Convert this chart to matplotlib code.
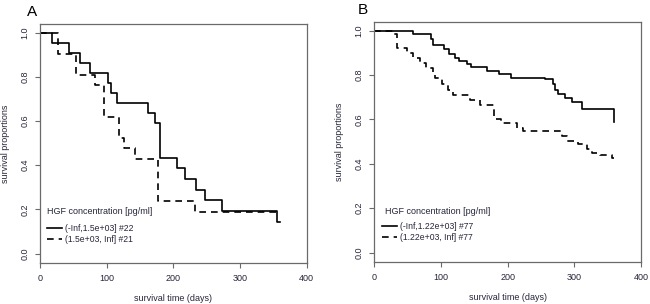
import numpy as np
import matplotlib
matplotlib.use("Agg")
import matplotlib.pyplot as plt

# DATA

# panel A, n = 22 / 21
a_low_days = [0, 18.5, 43.5, 59.5, 74.5, 102, 106, 115.5, 162, 173, 179.5,
              206, 217, 234.5, 247, 273.5, 356, 359.5]
a_low_surv = [1.0, 0.955, 0.909, 0.864, 0.818, 0.773, 0.727, 0.682, 0.636,
              0.591, 0.434, 0.386, 0.338, 0.290, 0.242, 0.194, 0.145, 0.145]

a_high_days = [0, 27, 53.5, 83, 95.5, 119, 126, 142, 177, 232, 360]
a_high_surv = [1.0, 0.905, 0.810, 0.762, 0.619, 0.524, 0.476, 0.429, 0.238,
               0.190, 0.190]

# panel B, n = 77 / 77
b_low_days = [0, 58.5, 84.5, 88.5, 104.5, 112.5, 121, 127.5, 138.5, 145,
              168.5, 187.5, 205, 256, 267.5, 271, 276, 286, 296, 311.5,
              359.5, 360]
b_low_surv = [1.0, 0.987, 0.961, 0.938, 0.916, 0.893, 0.878, 0.863, 0.851,
              0.836, 0.818, 0.803, 0.788, 0.781, 0.758, 0.735, 0.713, 0.698,
              0.678, 0.648, 0.588, 0.588]

b_high_days = [0, 28.5, 34.5, 49.5, 58.5, 68.5, 78, 88.5, 91, 101, 111,
               118.5, 143.5, 158.5, 179.5, 190, 213.5, 223.5, 281, 288.5,
               306, 318.5, 326, 338.5, 357, 360]
b_high_surv = [1.0, 0.987, 0.923, 0.900, 0.878, 0.856, 0.833, 0.803, 0.785,
               0.758, 0.735, 0.710, 0.686, 0.665, 0.600, 0.585, 0.562, 0.547,
               0.525, 0.502, 0.490, 0.469, 0.450, 0.442, 0.427, 0.427]

a_labels = ["(-Inf,1.5e+03] #22", "(1.5e+03, Inf] #21"]
b_labels = ["(-Inf,1.22e+03] #77", "(1.22e+03, Inf] #77"]
legend_title = "HGF concentration [pg/ml]"

x_ticks = [0, 100, 200, 300, 400]
y_ticks = [0.0, 0.2, 0.4, 0.6, 0.8, 1.0]

# STYLE
plt.rcParams['font.family'] = ['Liberation Sans', 'DejaVu Sans']
TEXT_COLOR = '#26263a'
BOX_COLOR = '#6a6a6a'
DASH = (0, (4, 3))


def km_panel(ax, low, high, labels, legend_xy, title_xy):
    ax.step(low[0], low[1], where='post', color='black', lw=1.2,
            label=labels[0])
    ax.step(high[0], high[1], where='post', color='black', lw=1.2,
            linestyle=DASH, label=labels[1])

    ax.set_xlim(0, 400)
    ax.set_ylim(-0.041, 1.038)
    ax.set_xticks(x_ticks)
    ax.set_yticks(y_ticks)
    ax.set_yticklabels([f"{v:.1f}" for v in y_ticks], rotation=90,
                       va='center')

    for sp in ax.spines.values():
        sp.set_color(BOX_COLOR)
        sp.set_linewidth(0.9)
    ax.tick_params(length=3.6, width=0.8, color=BOX_COLOR,
                   labelsize=6.5, labelcolor=TEXT_COLOR, pad=4.2)

    ax.set_xlabel("survival time (days)", fontsize=6.5, color=TEXT_COLOR)
    ax.set_ylabel("survival proportions", fontsize=6.5, color=TEXT_COLOR)
    ax.xaxis.set_label_coords(0.5, -0.132)
    ax.yaxis.set_label_coords(-0.112, 0.5)

    ax.text(title_xy[0], title_xy[1], legend_title, transform=ax.transAxes,
            fontsize=6.5, color=TEXT_COLOR, ha='left', va='center')
    leg = ax.legend(loc='center left', bbox_to_anchor=legend_xy,
                    frameon=False, fontsize=6.2, borderpad=0,
                    borderaxespad=0, handlelength=1.75, handletextpad=0.4,
                    labelspacing=0.2)
    for t in leg.get_texts():
        t.set_color(TEXT_COLOR)


fig = plt.figure(figsize=(6.5, 3.04), dpi=100)

ax_a = fig.add_axes([0.0615, 0.1359, 0.4103, 0.7843])
km_panel(ax_a, (a_low_days, a_low_surv), (a_high_days, a_high_surv),
         a_labels, (0.026, 0.119), (0.026, 0.214))

ax_b = fig.add_axes([0.5758, 0.1391, 0.4103, 0.7875])
km_panel(ax_b, (b_low_days, b_low_surv), (b_high_days, b_high_surv),
         b_labels, (0.028, 0.125), (0.040, 0.209))

fig.text(0.049, 0.96, "A", fontsize=11, ha='center', va='center')
fig.text(0.558, 0.967, "B", fontsize=11, ha='center', va='center')

fig.savefig("out.png", dpi=100)
